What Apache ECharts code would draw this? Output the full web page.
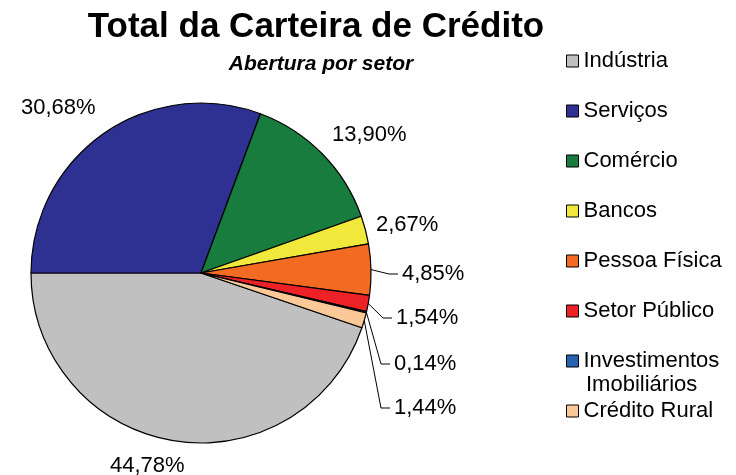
<!DOCTYPE html>
<html>
<head>
<meta charset="utf-8">
<title>Total da Carteira de Crédito</title>
<script src="https://cdn.jsdelivr.net/npm/echarts@6/dist/echarts.min.js"></script>
<style>
  html, body { margin: 0; padding: 0; background: #fff; }
  #main { width: 736px; height: 475px; }
</style>
</head>
<body>
<div id="main"></div>
<script>
// dados do gráfico
var setores = ['Indústria', 'Serviços', 'Comércio', 'Bancos', 'Pessoa Física', 'Setor Público', 'Investimentos Imobiliários', 'Crédito Rural'];
var percentuais = [44.78, 30.68, 13.90, 2.67, 4.85, 1.54, 0.14, 1.44];
var cores = ['#c0c0c0', '#2e3192', '#177c3d', '#f0e83a', '#f36a22', '#ec2227', '#2563ae', '#fbc997'];

// posição dos rótulos (borda esquerda, centro vertical)
var posRotulos = [[110, 466], [21, 108], [332, 135], [376, 225], [402, 274], [396, 318], [394, 364], [394, 408]];
var comLinha = [false, false, false, false, true, true, true, true];

var fonte = 'Liberation Sans, Arial, Helvetica, sans-serif';

var chart = echarts.init(document.getElementById('main'));

var dados = [];
for (var i = 0; i < setores.length; i++) {
    dados.push({
        name: setores[i],
        value: percentuais[i],
        itemStyle: { color: cores[i] },
        labelLine: { show: comLinha[i] }
    });
}

var option = {
    animation: false,
    title: [{
        text: 'Total da Carteira de Crédito',
        left: 311,
        top: 5,
        textAlign: 'center',
        textStyle: { fontFamily: fonte, fontSize: 35, fontWeight: 'bold', color: '#000' }
    }, {
        text: 'Abertura por setor',
        left: 316,
        top: 49,
        textAlign: 'center',
        textStyle: { fontFamily: fonte, fontSize: 21, fontWeight: 'bold', fontStyle: 'italic', color: '#000' }
    }],
    legend: {
        orient: 'vertical',
        left: 561,
        top: 45,
        itemWidth: 12,
        itemHeight: 12,
        itemGap: 28,
        icon: 'rect',
        itemStyle: { borderColor: '#000', borderWidth: 1 },
        formatter: function (nome) {
            return nome == 'Investimentos Imobiliários' ? 'Investimentos' : nome;
        },
        textStyle: { fontFamily: fonte, fontSize: 22, color: '#000' },
        data: setores
    },
    graphic: [{
        type: 'text',
        left: 586,
        top: 374,
        style: { text: 'Imobiliários', font: '22px ' + fonte, fill: '#000' }
    }],
    series: [{
        type: 'pie',
        center: [201, 273],
        radius: 170,
        startAngle: 341.2,
        clockwise: true,
        avoidLabelOverlap: false,
        itemStyle: { borderColor: '#000', borderWidth: 1.2 },
        label: {
            show: true,
            position: 'outside',
            fontFamily: fonte,
            fontSize: 22,
            color: '#000',
            formatter: function (p) {
                return p.value.toFixed(2).replace('.', ',') + '%';
            }
        },
        labelLine: {
            length: 8,
            length2: 10,
            lineStyle: { color: '#000', width: 1 }
        },
        labelLayout: function (p) {
            var pos = posRotulos[p.dataIndex];
            var res = { x: pos[0], y: pos[1], align: 'left', verticalAlign: 'middle' };
            if (comLinha[p.dataIndex] && p.labelLinePoints) {
                var ini = p.labelLinePoints[0];
                res.labelLinePoints = [ini, [pos[0] - 13, pos[1]], [pos[0] - 4, pos[1]]];
            }
            return res;
        },
        emphasis: { disabled: true },
        data: dados
    }]
};

chart.setOption(option);
</script>
</body>
</html>
